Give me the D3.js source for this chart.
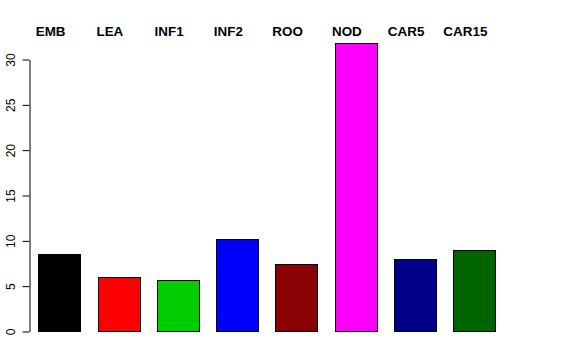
<!DOCTYPE html>
<html><head><meta charset="utf-8">
<script src="https://cdn.jsdelivr.net/npm/d3@7"></script>
<style>body{margin:0;background:#fff}svg{display:block}</style>
</head><body>
<script>
const categories = ["EMB","LEA","INF1","INF2","ROO","NOD","CAR5","CAR15"];
const values = [8.46, 5.92, 5.66, 10.11, 7.36, 31.78, 7.91, 8.93];
const colors = ["#000000","#FF0000","#00CD00","#0000FF","#8B0000","#FF00FF","#00008B","#006400"];
const yTicks = [0,5,10,15,20,25,30];

const W = 576, H = 360;
const svg = d3.select("body").append("svg").attr("width", W).attr("height", H);

const x = d3.scaleBand().domain(categories).range([38.3, 494.7]).paddingInner(0.297).paddingOuter(0);
const y = d3.scaleLinear().domain([0, 30]).range([331, 59]);

svg.selectAll("rect.bar").data(categories).enter().append("rect")
  .attr("class","bar")
  .attr("x", d => Math.round(x(d)) + 0.5)
  .attr("y", (d,i) => Math.round(y(values[i])) + 0.5)
  .attr("width", Math.round(x.bandwidth()))
  .attr("height", (d,i) => Math.round(y(0)) - Math.round(y(values[i])))
  .attr("fill", (d,i) => colors[i])
  .attr("stroke", "#000").attr("stroke-width", 1);

const axis = d3.axisLeft(y).tickValues(yTicks).tickSize(7).tickPadding(0).tickSizeOuter(0);
const g = svg.append("g").attr("transform","translate(29.5,0.5)").call(axis);
g.select(".domain").attr("stroke","#000");
g.selectAll(".tick line").attr("stroke","#000");
g.selectAll(".tick text").remove();
g.selectAll(".tick").append("text")
  .attr("transform","translate(-19,0) rotate(-90)")
  .attr("text-anchor","middle").attr("dy","0.35em")
  .attr("fill","#000")
  .style("font-family","'Liberation Sans', Arial, sans-serif").style("font-size","12px")
  .text(d => d);

svg.selectAll("text.lab").data(categories).enter().append("text")
  .attr("class","lab")
  .attr("transform", d => `translate(${x(d) + x.bandwidth()/2 - 8.5},35.5) scale(1.12,1)`)
  .attr("text-anchor","middle")
  .style("font-family","'Liberation Sans', Arial, sans-serif").style("font-size","12px").style("font-weight","bold")
  .text(d => d);
</script>
</body></html>
